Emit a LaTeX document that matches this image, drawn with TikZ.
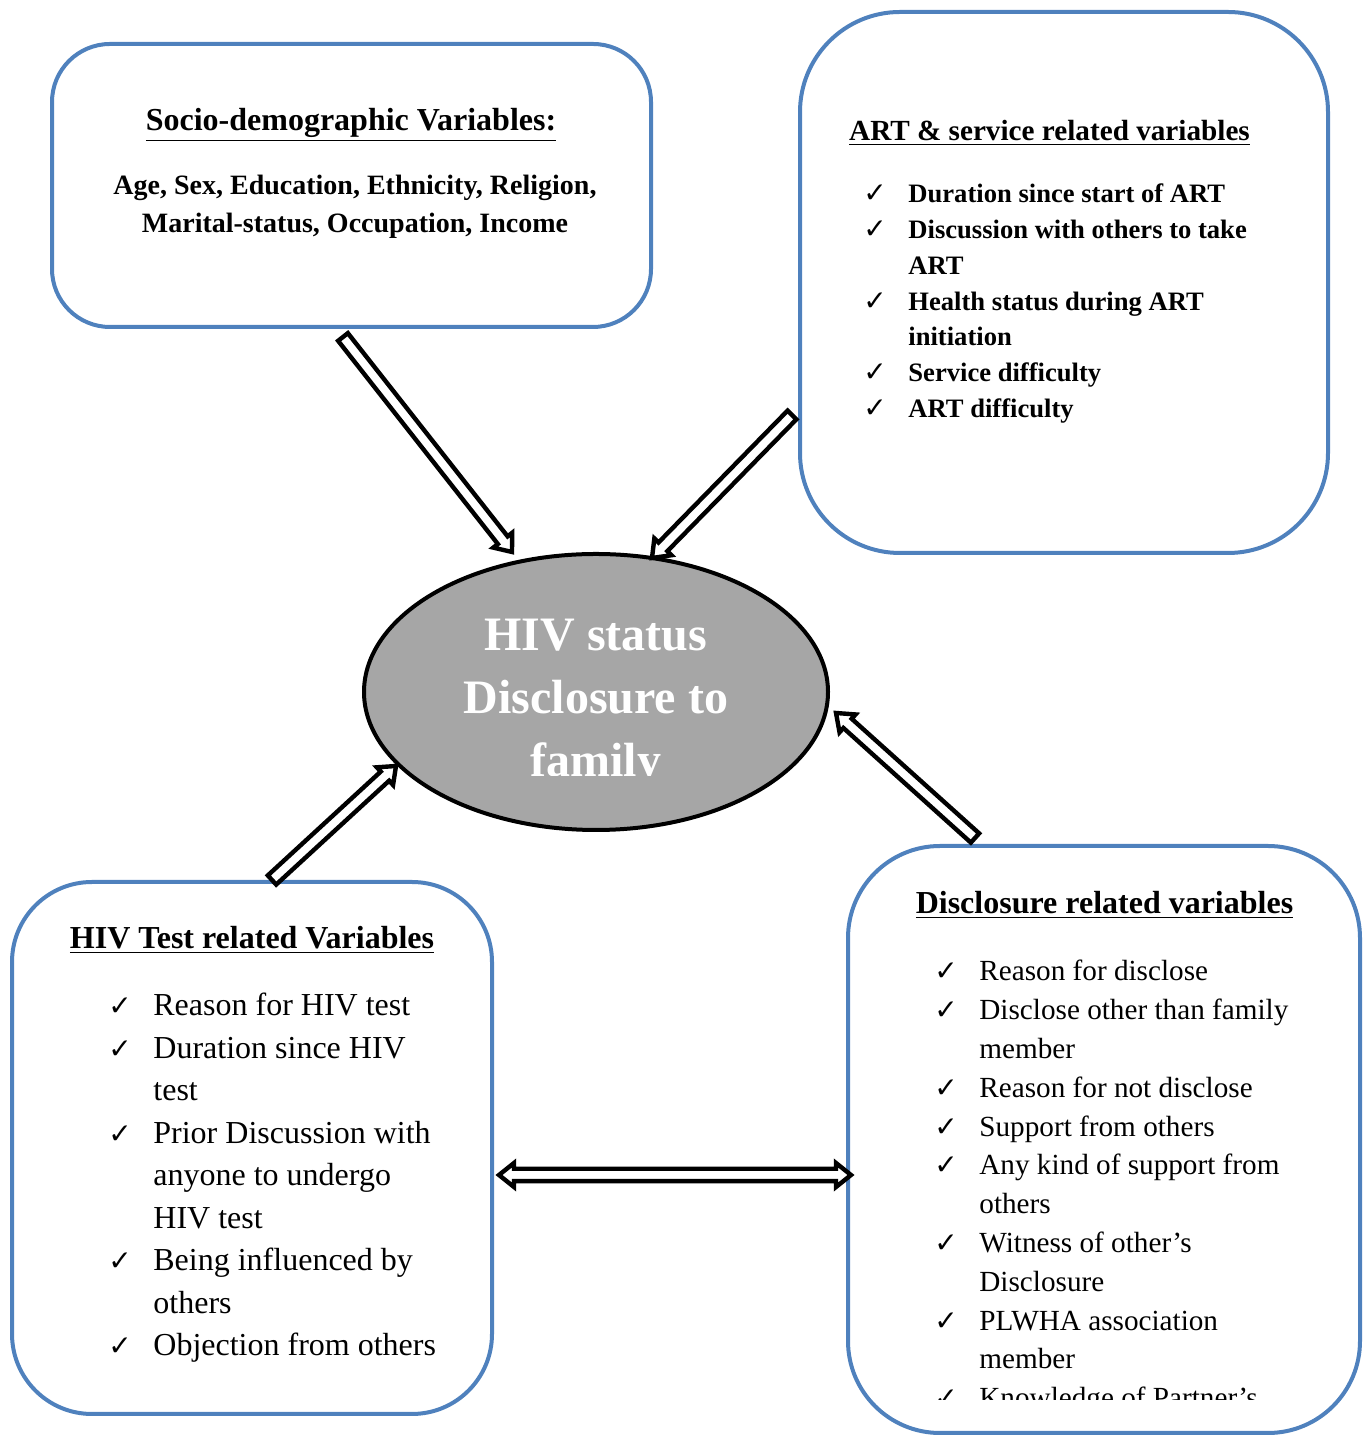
\documentclass[tikz,border=0pt]{standalone}
\usepackage{fontspec}
\setmainfont{Liberation Serif}
\newfontfamily\symfont{DejaVu Sans}
\usetikzlibrary{shapes.geometric,calc}
\definecolor{boxblue}{RGB}{79,129,189}
\definecolor{ovalgray}{RGB}{166,166,166}
\newcommand{\ck}{\llap{\makebox[22.5pt][l]{\symfont\bfseries\fontsize{14}{14}\selectfont ✓}}}
% hollow block arrow from #1 to #2
\newcommand{\blockarrow}[2]{%
  \draw[blockline] let \p1=($(#2)-(#1)$), \n1={atan2(\y1,\x1)}, \n2={veclen(\x1,\y1)} in
    ($(#1)+(\n1+90:3.1pt)$) -- ($(#1)+(\n1:\n2-7.5pt)+(\n1+90:3.1pt)$) -- ($(#1)+(\n1:\n2-7.5pt)+(\n1+90:6pt)$)
    -- (#2) -- ($(#1)+(\n1:\n2-7.5pt)+(\n1-90:6pt)$) -- ($(#1)+(\n1:\n2-7.5pt)+(\n1-90:3.1pt)$)
    -- ($(#1)+(\n1-90:3.1pt)$) -- cycle;}
% same, with a head at both ends
\newcommand{\blockarrowboth}[2]{%
  \draw[blockline] let \p1=($(#2)-(#1)$), \n1={atan2(\y1,\x1)}, \n2={veclen(\x1,\y1)} in
    (#1) -- ($(#1)+(\n1:7.5pt)+(\n1+90:6pt)$) -- ($(#1)+(\n1:7.5pt)+(\n1+90:3.1pt)$)
    -- ($(#1)+(\n1:\n2-7.5pt)+(\n1+90:3.1pt)$) -- ($(#1)+(\n1:\n2-7.5pt)+(\n1+90:6pt)$)
    -- (#2) -- ($(#1)+(\n1:\n2-7.5pt)+(\n1-90:6pt)$) -- ($(#1)+(\n1:\n2-7.5pt)+(\n1-90:3.1pt)$)
    -- ($(#1)+(\n1:7.5pt)+(\n1-90:3.1pt)$) -- ($(#1)+(\n1:7.5pt)+(\n1-90:6pt)$) -- cycle;}

\begin{document}
\begin{tikzpicture}[x=0.5pt,y=0.5pt,
    varbox/.style={draw=boxblue, line width=2pt, rounded corners=#1, inner sep=0pt},
    boxtitle/.style={font=\bfseries\fontsize{16}{19}\selectfont, anchor=base, inner sep=0pt},
    itemline/.style={anchor=base west, inner sep=0pt},
    blockline/.style={draw=black, fill=white, line width=2.2pt, line join=miter}]
  \useasboundingbox (0,0) rectangle (1362,1435);

  % boxes and the oval
  \node[varbox=29pt, minimum width=299.5pt, minimum height=141.5pt] (sd) at (351.5,1249.5) {};
  \node[varbox=50pt, minimum width=264pt, minimum height=270.5pt] (art) at (1064,1152.5) {};
  \node[varbox=40pt, minimum width=240pt, minimum height=266pt] (hiv) at (252,287) {};
  \node[varbox=46pt, minimum width=256pt, minimum height=293.5pt] (dis) at (1104,295.5) {};
  \node[ellipse, draw, line width=2pt, fill=ovalgray, minimum width=232pt, minimum height=138pt] (disc) at (596,743) {};

  % socio-demographic
  \node[boxtitle] (sd-title) at (351,1304) {\underline{Socio-demographic Variables:}};
  \foreach \t [count=\i] in {{Age, Sex, Education, Ethnicity, Religion,},{Marital-status, Occupation, Income}}
    \node[anchor=base, inner sep=0pt, font=\bfseries\fontsize{14}{17}\selectfont] (sd-\i) at (355,1278-\i*38) {\t};

  % ART and service
  \node[boxtitle, font=\bfseries\fontsize{14.6}{17}\selectfont] (art-title) at (1049.5,1294) {\underline{ART \& service related variables}};
  \foreach \t [count=\i] in {\ck Duration since start of ART,\ck Discussion with others to take,ART,
      \ck Health status during ART,initiation,\ck Service difficulty,\ck ART difficulty}
    \node[itemline, font=\bfseries\fontsize{13.3}{16}\selectfont] (art-\i) at (908,1267.7-\i*35.7) {\t};

  % HIV test
  \node[boxtitle] (hiv-title) at (252,486) {\underline{HIV Test related Variables}};
  \foreach \t [count=\i] in {\ck Reason for HIV test,\ck Duration since HIV,test,\ck Prior Discussion with,
      anyone to undergo,HIV test,\ck Being influenced by,others,\ck Objection from others}
    \node[itemline, font=\fontsize{16}{19}\selectfont] (hiv-\i) at (153,461.5-\i*42.5) {\t};

  % disclosure
  \node[boxtitle] (dis-title) at (1104.5,521) {\underline{Disclosure related variables}};
  \begin{scope}
    \clip (850,35) rectangle (1362,846);
    \foreach \t [count=\i] in {\ck Reason for disclose,\ck Disclose other than family,member,
        \ck Reason for not disclose,\ck Support from others,\ck Any kind of support from,others,
        \ck Witness of other’s,Disclosure,\ck PLWHA association,member,\ck Knowledge of Partner’s}
      \node[itemline, font=\fontsize{14.6}{17}\selectfont] (dis-\i) at (979,492.8-\i*38.8) {\t};
  \end{scope}

  % oval text
  \begin{scope}
    \clip (364,659) rectangle (828,830);
    \foreach \t [count=\i] in {HIV status,Disclosure to,family}
      \node[anchor=base, inner sep=0pt, text=white, font=\bfseries\fontsize{24}{28}\selectfont] (disc-\i) at (596,847-\i*63) {\t};
  \end{scope}

  % arrows
  \coordinate (sd-out) at (343,1098);  \coordinate (sd-in) at (512,883);
  \coordinate (art-out) at (792,1020); \coordinate (art-in) at (652,877);
  \coordinate (hiv-out) at (272,555);  \coordinate (hiv-in) at (396,669);
  \coordinate (dis-out) at (975,597);  \coordinate (dis-in) at (836,722);
  \coordinate (hiv-side) at (499,260); \coordinate (dis-side) at (851,260);
  \foreach \a/\b in {sd-out/sd-in,art-out/art-in,hiv-out/hiv-in,dis-out/dis-in}
    {\blockarrow{\a}{\b}}
  \blockarrowboth{hiv-side}{dis-side}
\end{tikzpicture}
\end{document}
